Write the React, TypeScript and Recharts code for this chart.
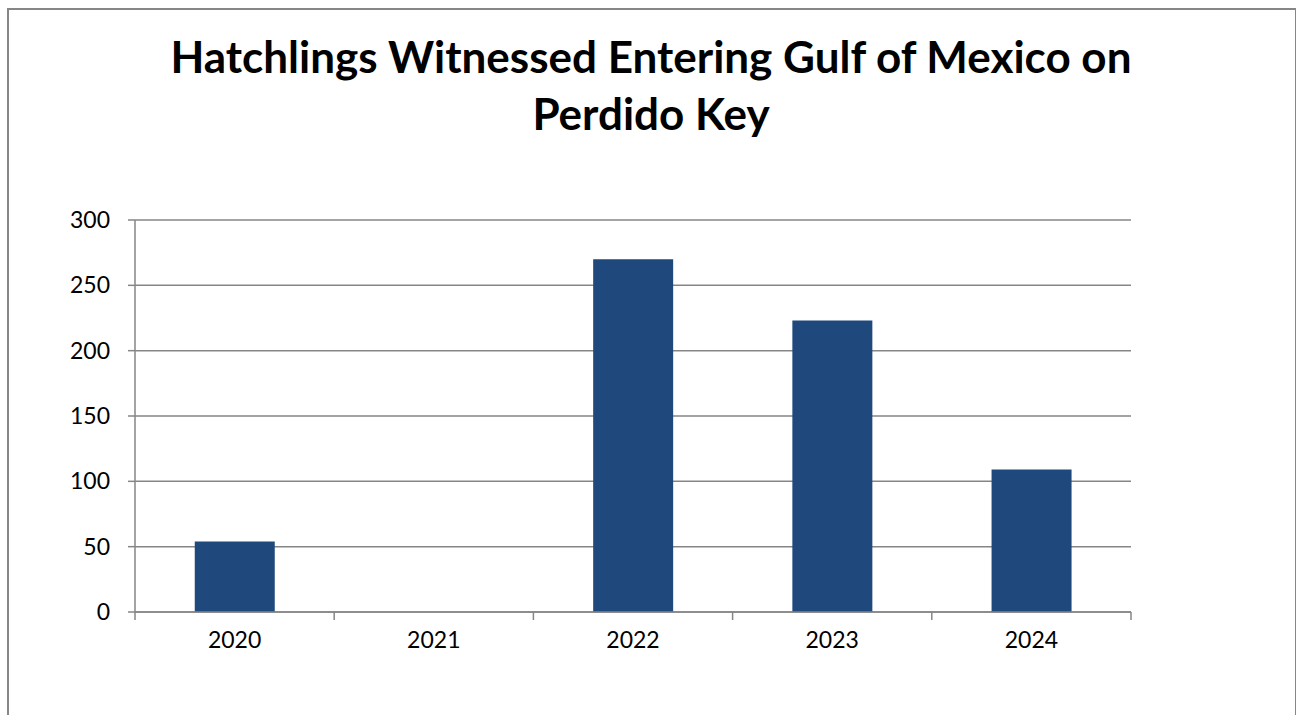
import { BarChart, Bar, XAxis, YAxis, CartesianGrid } from "recharts";

const years = ["2020", "2021", "2022", "2023", "2024"];
const hatchlings = [54, 0, 270, 223, 109];
const yTicks = [0, 50, 100, 150, 200, 250, 300];

const data = years.map((year, i) => ({ year, hatchlings: hatchlings[i] }));

const W = 1296;
const H = 715;
const PLOT_LEFT = 135;
const PLOT_RIGHT = 1131;
const PLOT_TOP = 220;
const PLOT_BOTTOM = 612;
const STEP = (PLOT_RIGHT - PLOT_LEFT) / years.length;
const GRID = "#868686";
const FONT = "Lato, 'Open Sans', sans-serif";

// excel-style: tick marks sit on the category boundaries, label in the middle
function YearTick(props: any) {
  const { x, y, payload, index } = props;
  const last = index === years.length - 1;
  return (
    <g>
      <line x1={x - STEP / 2} x2={x - STEP / 2} y1={y - 8} y2={y} stroke={GRID} strokeWidth={1.5} />
      {last && (
        <line x1={x + STEP / 2} x2={x + STEP / 2} y1={y - 8} y2={y} stroke={GRID} strokeWidth={1.5} />
      )}
      <text x={x} y={y + 28} textAnchor="middle" fill="#000" fontSize={23} fontFamily={FONT}>
        {payload.value}
      </text>
    </g>
  );
}

export default function App() {
  return (
    <div style={{ position: "absolute", left: 0, top: 0, width: W, height: H, background: "#fff", overflow: "hidden" }}>
      <div
        style={{
          position: "absolute",
          left: 7,
          top: 8,
          width: 1286,
          height: 720,
          border: `2px solid ${GRID}`,
        }}
      />
      <div
        style={{
          position: "absolute",
          left: 7,
          width: 1288,
          top: 28,
          textAlign: "center",
          fontFamily: FONT,
          fontWeight: 700,
          fontSize: 44,
          lineHeight: "57px",
          color: "#000",
        }}
      >
        Hatchlings Witnessed Entering Gulf of Mexico on
        <br />
        Perdido Key
      </div>
      <div style={{ position: "absolute", left: 0, top: 0 }}>
        <BarChart
          width={W}
          height={H}
          data={data}
          margin={{ top: PLOT_TOP, right: W - PLOT_RIGHT, bottom: 0, left: PLOT_LEFT - 60 }}
          barCategoryGap="30%"
        >
          <CartesianGrid vertical={false} stroke={GRID} strokeWidth={1.5} />
          <XAxis
            dataKey="year"
            axisLine={{ stroke: GRID, strokeWidth: 1.5 }}
            tickLine={false}
            tick={<YearTick />}
            height={H - PLOT_BOTTOM}
            interval={0}
          />
          <YAxis
            domain={[0, 300]}
            ticks={yTicks}
            width={60}
            axisLine={{ stroke: GRID, strokeWidth: 1.5 }}
            tickLine={{ stroke: GRID, strokeWidth: 1.5 }}
            tickSize={7}
            tickMargin={18}
            tick={{ fill: "#000", fontSize: 23, fontFamily: FONT }}
          />
          <Bar dataKey="hatchlings" fill="#1F497D" isAnimationActive={false} />
        </BarChart>
      </div>
    </div>
  );
}
